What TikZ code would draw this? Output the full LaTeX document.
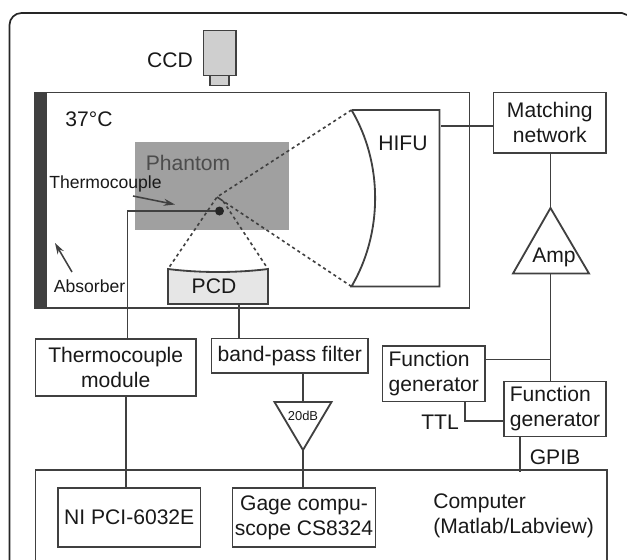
\documentclass[tikz,border=0pt]{standalone}
\usepackage{fontspec}
\setmainfont{Liberation Sans}
\usetikzlibrary{calc,arrows.meta}
\definecolor{wirecol}{HTML}{404040}
\definecolor{phantomcol}{HTML}{A0A0A0}
\definecolor{ccdcol}{HTML}{CFCFCF}
\definecolor{pcdcol}{HTML}{E6E6E6}
\tikzset{
  wire/.style={draw=wirecol, line width=1.3pt},
  thinwire/.style={draw=wirecol, line width=1.1pt},
  dashwire/.style={draw=wirecol, line width=1.15pt, dash pattern=on 2.2pt off 2.2pt},
  lab/.style={text=black!90, inner sep=0pt, align=center, font=\fontsize{15}{17.8}\selectfont},
  smalllab/.style={lab, font=\fontsize{12.5}{14}\selectfont},
  pxbox/.style 2 args={wire, lab, outer sep=0pt, minimum width=#1*0.025cm, minimum height=#2*0.025cm},
}
\begin{document}
\begin{tikzpicture}[x=0.025cm, y=-0.025cm, >={Stealth[length=8pt, width=5pt]}]
  \useasboundingbox (0,0) rectangle (627,560);

  % Outer frame
  \draw[draw=black!85, line width=1.2pt] (9.5,560) -- (9.5,25) arc (180:270:12) -- (622,13) -- (627,15);

  % Camera
  \node[pxbox={32.5}{45}, fill=ccdcol] (ccd) at (219.75,53) {};
  \node[pxbox={19}{10}, fill=ccdcol, anchor=north] (lens) at (ccd.south) {};
  \node[lab] (ccdlab) at (170,60) {CCD};

  % Water tank
  \node[pxbox={434.5}{215.5}, anchor=north west] (tank) at (35,92.5) {};
  \node[fill=wirecol, inner sep=0pt, outer sep=0pt, minimum width=12*0.025cm, minimum height=215.5*0.025cm, anchor=north west] (absorber) at (35,92.5) {};
  \node[lab] (templab) at (89,119) {37°C};

  % Phantom
  \node[fill=phantomcol, inner sep=0pt, outer sep=0pt, minimum width=154*0.025cm, minimum height=88*0.025cm, anchor=north west] (phantom) at (135,141.5) {};
  \node[lab, text=black!70] (phantomlab) at (188,163) {Phantom};

  % HIFU transducer
  \coordinate (hifutop) at (351.5,110);
  \coordinate (hifubot) at (351.5,286.5);
  \draw[wire] (hifutop) -- (439.5,110) -- (439.5,286.5) -- (hifubot) .. controls (383,233) and (383,163) .. (hifutop);
  \node[lab] (hifulab) at (403,143) {HIFU};

  % PCD
  \coordinate (pcdleft) at (168,269);
  \coordinate (pcdright) at (268,269);
  \draw[wire, fill=pcdcol] (pcdleft) .. controls (200,273) and (236,273) .. (pcdright) -- (268,304) -- (168,304) -- cycle;
  \node[lab] (pcdlab) at (214,286) {PCD};

  % Focal lines
  \coordinate (focusa) at (217,197);
  \coordinate (focusb) at (223,201);
  \draw[dashwire] (hifutop) -- (focusa) -- (pcdleft);
  \draw[dashwire] (hifubot) -- (focusb) -- (pcdright);
  \draw[thinwire] (focusa) -- (focusb);

  % Thermocouple
  \node[circle, fill=black!85, inner sep=0pt, minimum size=9*0.025cm] (tip) at (219.5,211) {};
  \node[smalllab] (tclab) at (105.5,184) {Thermocouple};
  \coordinate (tcarrowa) at (133,196);
  \coordinate (tcarrowb) at (175,204.5);
  \draw[->, thinwire] (tcarrowa) -- (tcarrowb);
  \node[pxbox={160.5}{57}, anchor=north west] (tcmod) at (35.5,339) {Thermocouple\\module};
  \coordinate (tcin) at (127.5,339);
  \draw[wire] (tip) -- (tip -| tcin) -- (tcin);

  % Absorber label
  \node[smalllab] (abslab) at (89.5,286) {Absorber};
  \coordinate (absarrowa) at (72,272);
  \coordinate (absarrowb) at (55,243);
  \draw[->, thinwire] (absarrowa) -- (absarrowb);

  % Receive chain
  \node[pxbox={156.5}{34.5}, anchor=north west] (bpf) at (211.5,338.5) {band-pass filter};
  \coordinate (pcdout) at (239,304);
  \draw[wire] (pcdout) -- (pcdout |- bpf.north);
  \coordinate (gaina) at (274.5,402);
  \coordinate (gainb) at (331.5,402);
  \coordinate (gainc) at (303,450);
  \draw[wire] (gaina) -- (gainb) -- (gainc) -- cycle;
  \node[lab, font=\fontsize{9.2}{11}\selectfont] (gainlab) at (303,416) {20dB};
  \draw[wire] (gainc |- bpf.south) -- (gainc |- gaina);

  % Computer
  \draw[wire] (35.5,560) -- (35.5,470) -- (607,470) -- (607,560);
  \node[pxbox={142.5}{59}, anchor=north west] (ni) at (58,488) {NI PCI-6032E};
  \node[pxbox={143}{59}, anchor=north west] (gage) at (232.5,488) {Gage compu-\\scope CS8324};
  \node[lab, align=left, anchor=west] (complab) at (433,516) {Computer\\(Matlab/Labview)};
  \coordinate (tcout) at (126,396);
  \draw[wire] (tcout) -- (tcout |- ni.north);
  \draw[wire] (gainc) -- (gainc |- gage.north);

  % Drive chain
  \node[pxbox={112.5}{60.5}, anchor=north west] (match) at (493.5,92.5) {Matching\\network};
  \coordinate (hifuin) at (441,126);
  \draw[wire] (hifuin) -- (hifuin -| match.west);
  \coordinate (ampa) at (550.5,208);
  \coordinate (ampb) at (513,273.5);
  \coordinate (ampc) at (589,273.5);
  \draw[wire] (ampa) -- (ampb) -- (ampc) -- cycle;
  \node[lab] (amplab) at (554,257) {Amp};
  \draw[wire] (ampa |- match.south) -- (ampa);

  % Function generators
  \node[pxbox={102.5}{55.5}, anchor=north west, align=left] (fgena) at (382.5,346) {Function\\generator};
  \node[pxbox={102}{55}, anchor=north west, align=left] (fgenb) at (504,381.5) {Function\\generator};
  \coordinate (ampout) at (550.5,273.5);
  \coordinate (fgjoin) at (550.5,359.5);
  \draw[wire] (ampout) -- (ampout |- fgenb.north);
  \draw[wire] (fgjoin) -- (fgjoin -| fgena.east);
  \coordinate (ttlout) at (465,401.5);
  \coordinate (ttlin) at (504,421);
  \draw[wire] (ttlout) -- (ttlout |- ttlin) -- (ttlin);
  \node[lab] (ttllab) at (440,422) {TTL};
  \coordinate (gpibout) at (520,436.5);
  \coordinate (gpibin) at (520,472);
  \draw[wire] (gpibout) -- (gpibin);
  \node[lab] (gpiblab) at (555,457) {GPIB};
\end{tikzpicture}
\end{document}
